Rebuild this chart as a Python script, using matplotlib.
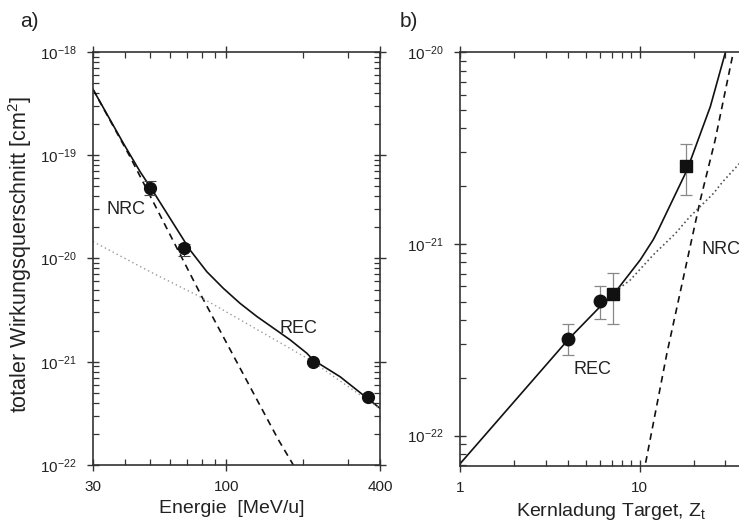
import numpy as np
import matplotlib
matplotlib.use("Agg")
import matplotlib.pyplot as plt
from matplotlib.ticker import FixedLocator, NullFormatter, LogLocator

plt.rcParams['font.family'] = ['Liberation Sans', 'DejaVu Sans']
plt.rcParams['mathtext.fontset'] = 'custom'
plt.rcParams['mathtext.rm'] = 'Liberation Sans'
plt.rcParams['mathtext.it'] = 'Liberation Sans:italic'
plt.rcParams['mathtext.bf'] = 'Liberation Sans:bold'

# ---- panel a): cross section vs. energy ----
energy_pts = [50, 68, 219, 359]
sigma_pts = [4.85e-20, 1.25e-20, 1.0e-21, 4.57e-22]
sigma_lo = [4.15e-20, 1.05e-20, 1.0e-21, 4.57e-22]
sigma_hi = [5.58e-20, 1.39e-20, 1.0e-21, 4.57e-22]

# total (solid)
energy_tot = [30, 39.5, 45.9, 51.7, 61.9, 72.0, 83.8, 97.3, 113.1, 131.5,
              152.8, 177.7, 206.6, 219, 279, 400]
sigma_tot = [4.35e-19, 1.3e-19, 6.93e-20, 4.44e-20, 2.19e-20, 1.21e-20,
             7.45e-21, 5.14e-21, 3.68e-21, 2.75e-21, 2.12e-21, 1.63e-21,
             1.21e-21, 1.04e-21, 7.16e-22, 3.54e-22]
# NRC (dashed)
energy_nrc = [30, 41.9, 80, 160, 183]
sigma_nrc = [4.35e-19, 9.7e-20, 4.3e-21, 1.75e-22, 1.0e-22]
# REC (dotted)
energy_rec = [30, 50.2, 78.8, 213, 400]
sigma_rec = [1.46e-20, 7.45e-21, 4.26e-21, 1.04e-21, 3.5e-22]

# ---- panel b): cross section vs. target nuclear charge ----
z_circ = [4, 6]
sig_circ = [3.21e-22, 5.05e-22]
sig_circ_lo = [2.63e-22, 4.04e-22]
sig_circ_hi = [3.82e-22, 6.05e-22]
z_sq = [7.08, 18.2]
sig_sq = [5.46e-22, 2.55e-21]
sig_sq_lo = [3.8e-22, 1.79e-21]
sig_sq_hi = [7.06e-22, 3.31e-21]

z_tot = [1, 4.04, 6.01, 7.46, 10.07, 11.9, 12.7, 18.4, 24.8, 30.0, 31]
sig_tot = [7.18e-23, 3.21e-22, 4.70e-22, 5.74e-22, 8.24e-22, 1.05e-21,
           1.18e-21, 2.43e-21, 5.19e-21, 9.84e-21, 1.15e-20]
z_nrc = [10.5, 14.2, 21.8, 26.4, 33.2, 35]
sig_nrc = [6.3e-23, 2.69e-22, 1.69e-21, 3.48e-21, 9.8e-21, 1.25e-20]
z_rec = [6.0, 7.46, 8.85, 11.9, 15.8, 19, 25.8, 29, 35.6, 40]
sig_rec = [4.70e-22, 5.74e-22, 6.47e-22, 8.75e-22, 1.13e-21, 1.38e-21,
           1.83e-21, 2.1e-21, 2.59e-21, 2.85e-21]

txt = '#222222'
ax_col = '#333333'

fig = plt.figure(figsize=(7.39, 5.24), dpi=100)
ax1 = fig.add_axes([0.1258, 0.1126, 0.3884, 0.7882])
ax2 = fig.add_axes([0.6231, 0.1107, 0.3884, 0.7900])


def style(ax):
    for s in ax.spines.values():
        s.set_color(ax_col)
        s.set_linewidth(1.2)
    ax.tick_params(which='major', direction='inout', length=8, width=1.0,
                   color=ax_col, labelcolor=txt, labelsize=11,
                   top=True, right=True)
    ax.tick_params(which='minor', direction='in', length=4, width=0.9,
                   color=ax_col, top=True, right=True)
    ax.tick_params(axis='y', which='major', pad=8)
    ax.tick_params(axis='x', which='major', pad=7)


# panel a
ax1.plot(energy_tot, sigma_tot, '-', color='#111111', lw=1.2)
ax1.plot(energy_nrc, sigma_nrc, '--', color='#111111', lw=1.2, dashes=(4, 3))
ax1.plot(energy_rec, sigma_rec, color='#9a9a9a', lw=1.0, dashes=(1, 2.2))
yerr1 = [np.array(sigma_pts) - np.array(sigma_lo),
         np.array(sigma_hi) - np.array(sigma_pts)]
ax1.errorbar(energy_pts, sigma_pts, yerr=yerr1, fmt='o', color='#111111',
             ms=8.5, ecolor='#444444', elinewidth=0.8, capsize=4, capthick=0.8)
ax1.set_xscale('log')
ax1.set_yscale('log')
ax1.set_xlim(30, 400)
ax1.set_ylim(1e-22, 1e-18)
ax1.xaxis.set_major_locator(FixedLocator([30, 100, 400]))
ax1.set_xticklabels(['30', '100', '400'])
ax1.xaxis.set_minor_locator(FixedLocator([40, 50, 60, 70, 80, 90, 200, 300]))
ax1.xaxis.set_minor_formatter(NullFormatter())
ax1.yaxis.set_major_locator(FixedLocator([1e-22, 1e-21, 1e-20, 1e-19, 1e-18]))
ax1.yaxis.set_minor_locator(LogLocator(base=10, subs=np.arange(2, 10), numticks=20))
ax1.yaxis.set_minor_formatter(NullFormatter())
style(ax1)
ax1.set_xlabel('Energie  [MeV/u]', fontsize=14, color=txt)
ax1.xaxis.set_label_coords(0.482, -0.085)
ax1.set_ylabel('totaler Wirkungsquerschnitt [cm$^2$]', fontsize=15.5, color=txt)
ax1.yaxis.set_label_coords(-0.205, 0.51)
ax1.text(34, 3.0e-20, 'NRC', fontsize=13, color=txt, ha='left', va='center')
ax1.text(161, 2.1e-21, 'REC', fontsize=13, color=txt, ha='left', va='center')

# panel b
ax2.plot(z_tot, sig_tot, '-', color='#111111', lw=1.2)
ax2.plot(z_nrc, sig_nrc, '--', color='#111111', lw=1.2, dashes=(4, 3))
ax2.plot(z_rec, sig_rec, ':', color='#555555', lw=1.2)
yerr_c = [np.array(sig_circ) - np.array(sig_circ_lo),
          np.array(sig_circ_hi) - np.array(sig_circ)]
yerr_s = [np.array(sig_sq) - np.array(sig_sq_lo),
          np.array(sig_sq_hi) - np.array(sig_sq)]
ax2.errorbar(z_circ, sig_circ, yerr=yerr_c, fmt='o', color='#111111', ms=9,
             ecolor='#888888', elinewidth=0.9, capsize=4, capthick=0.9)
ax2.errorbar(z_sq, sig_sq, yerr=yerr_s, fmt='s', color='#111111', ms=8,
             ecolor='#888888', elinewidth=0.9, capsize=4, capthick=0.9)
ax2.set_xscale('log')
ax2.set_yscale('log')
ax2.set_xlim(1, 40)
ax2.set_ylim(6.95e-23, 1e-20)
ax2.xaxis.set_major_locator(FixedLocator([1, 10]))
ax2.set_xticklabels(['1', '10'])
ax2.xaxis.set_minor_locator(FixedLocator([2, 3, 4, 5, 6, 7, 8, 9, 20, 30]))
ax2.xaxis.set_minor_formatter(NullFormatter())
ax2.yaxis.set_major_locator(FixedLocator([1e-22, 1e-21, 1e-20]))
ax2.yaxis.set_minor_locator(LogLocator(base=10, subs=np.arange(2, 10), numticks=20))
ax2.yaxis.set_minor_formatter(NullFormatter())
style(ax2)
ax2.set_xlabel('Kernladung Target, Z$_\\mathrm{t}$', fontsize=14, color=txt)
ax2.xaxis.set_label_coords(0.526, -0.085)
ax2.text(22.2, 9.3e-22, 'NRC', fontsize=13, color=txt, ha='left', va='center')
ax2.text(4.25, 2.2e-22, 'REC', fontsize=13, color=txt, ha='left', va='center')

fig.text(0.027, 0.948, 'a)', fontsize=15, color=txt)
fig.text(0.541, 0.948, 'b)', fontsize=15, color=txt)

fig.savefig('out.png', dpi=100)
